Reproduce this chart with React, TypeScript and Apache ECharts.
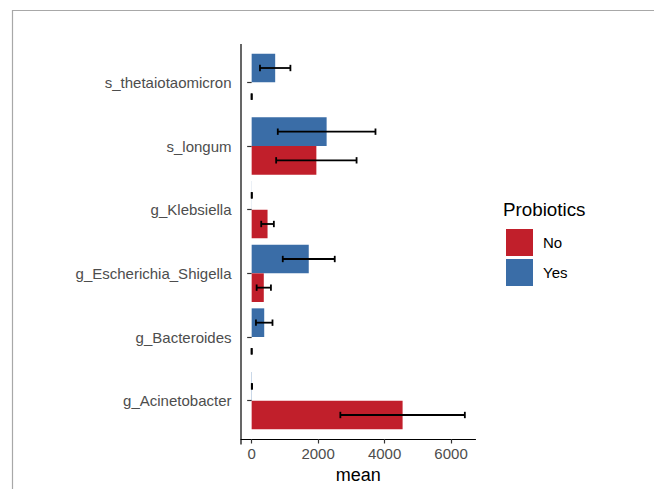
import React, { useEffect, useRef } from "react";
import * as echarts from "echarts";

// categories listed bottom-to-top (ECharts category y-axis order)
const categories = [
  "g_Acinetobacter",
  "g_Bacteroides",
  "g_Escherichia_Shigella",
  "g_Klebsiella",
  "s_longum",
  "s_thetaiotaomicron",
];
const noMean = [4542, 0, 365, 478, 1947, 0];
const noSd = [1873, 0, 215, 190, 1210, 0];
const yesMean = [8, 378, 1718, 3, 2256, 708];
const yesSd = [4, 249, 782, 2, 1470, 458];
const xTicks = [0, 2000, 4000, 6000];
const groups = ["No", "Yes"];

const RED = "#C11F2B";
const BLUE = "#3A6DA7";
const FONT = "'Liberation Sans', Arial, sans-serif";

export default function App() {
  const ref = useRef<HTMLDivElement>(null);
  useEffect(() => {
    if (!ref.current) return;
    const chart = echarts.init(ref.current, undefined, { renderer: "svg" });

    const errData: number[][] = [];
    categories.forEach((_, i) => {
      // group 0 = Yes (top half), group 1 = No (bottom half)
      errData.push([yesMean[i] - yesSd[i], yesMean[i] + yesSd[i], i, 0]);
      errData.push([noMean[i] - noSd[i], noMean[i] + noSd[i], i, 1]);
    });
    const maxHi = Math.max(...errData.map((d) => d[1]));
    const span = maxHi;
    const xMin = -0.05 * span;
    const xMax = maxHi + 0.05 * span;

    chart.setOption({
      animation: false,
      textStyle: { fontFamily: FONT },
      grid: { left: 241, right: 178.5, top: 50.5, bottom: 51.5, containLabel: false },
      legend: {
        data: groups,
        orient: "vertical",
        left: 506,
        top: 229,
        padding: 0,
        itemWidth: 27,
        itemHeight: 27,
        itemGap: 3,
        icon: "rect",
        selectedMode: false,
        textStyle: { fontSize: 15, color: "#000", fontFamily: FONT, padding: [0, 0, 0, 5] },
      },
      xAxis: {
        type: "value",
        min: xMin,
        max: xMax,
        offset: 6.5,
        name: "mean",
        nameLocation: "middle",
        nameGap: 27,
        nameTextStyle: { fontSize: 18, color: "#000", fontFamily: FONT },
        axisLine: { show: true, onZero: false, lineStyle: { color: "#000", width: 1.2 } },
        axisTick: { show: true, length: 4.5, customValues: xTicks, lineStyle: { color: "#333", width: 1.2 } },
        axisLabel: {
          customValues: xTicks,
          fontSize: 15,
          color: "#4D4D4D",
          margin: 7,
          fontFamily: FONT,
          formatter: (v: number) => String(v),
        },
        splitLine: { show: false },
      },
      yAxis: {
        type: "category",
        data: categories,
        axisLine: { show: false },
        axisTick: { show: true, alignWithLabel: true, length: 4.5, lineStyle: { color: "#333", width: 1.2 } },
        axisLabel: { fontSize: 15, color: "#4D4D4D", margin: 9.5, fontFamily: FONT },
        splitLine: { show: false },
      },
      graphic: [
        {
          type: "rect",
          shape: { x: 12.5, y: 10.5, width: 800, height: 800 },
          style: { fill: "none", stroke: "#A8A8A8", lineWidth: 1.2 },
          silent: true,
        },
        {
          type: "line",
          shape: { x1: 241, y1: 44, x2: 241, y2: 444.5 },
          style: { stroke: "#000", lineWidth: 1.2 },
          silent: true,
        },
        {
          type: "text",
          left: 503,
          top: 200,
          style: { text: "Probiotics", fontSize: 18.8, fill: "#000", fontFamily: FONT },
        },
      ],
      series: [
        {
          name: "Yes",
          type: "bar",
          data: yesMean,
          itemStyle: { color: BLUE },
          barGap: "0%",
          barCategoryGap: "10%",
          silent: true,
        },
        {
          name: "No",
          type: "bar",
          data: noMean,
          itemStyle: { color: RED },
          barGap: "0%",
          barCategoryGap: "10%",
          silent: true,
        },
        {
          type: "custom",
          name: "err",
          data: errData,
          encode: { x: [0, 1], y: 2 },
          silent: true,
          z: 5,
          renderItem: (params: any, api: any) => {
            const lo = api.value(0);
            const hi = api.value(1);
            const cat = api.value(2);
            const grp = api.value(3);
            const p0 = api.coord([lo, cat]);
            const p1 = api.coord([hi, cat]);
            const band = api.size([0, 1])[1];
            const y = p0[1] + (grp === 0 ? -0.225 : 0.225) * band;
            const cap = 0.05 * band;
            const style = { stroke: "#000", lineWidth: 1.8 };
            return {
              type: "group",
              children: [
                { type: "line", shape: { x1: p0[0], y1: y, x2: p1[0], y2: y }, style },
                { type: "line", shape: { x1: p0[0], y1: y - cap, x2: p0[0], y2: y + cap }, style },
                { type: "line", shape: { x1: p1[0], y1: y - cap, x2: p1[0], y2: y + cap }, style },
              ],
            };
          },
        },
      ],
    });
    return () => chart.dispose();
  }, []);
  return (
    <div
      ref={ref}
      style={{ position: "absolute", left: 0, top: 0, width: 654, height: 489 }}
    />
  );
}
